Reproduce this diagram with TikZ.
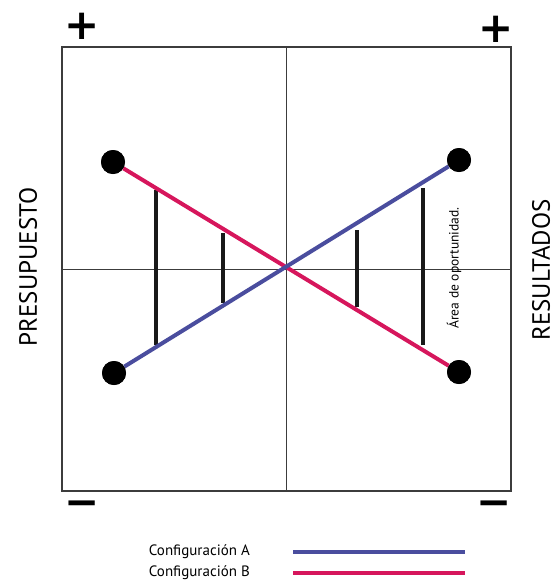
\documentclass[tikz,border=0pt]{standalone}
\usepackage{fontspec}
\setmainfont{PT Sans}
\newfontfamily\signfont{DejaVu Sans}
\usepackage{tikz}
\usetikzlibrary{positioning,calc}
\definecolor{cfgblue}{RGB}{74,77,158}
\definecolor{cfgpink}{RGB}{214,22,92}
\definecolor{axisgray}{RGB}{60,60,60}

\begin{document}
\begin{tikzpicture}[
  x=1pt, y=-1pt,
  frame/.style={draw=axisgray, line width=1.4pt, minimum width=449pt, minimum height=444pt, inner sep=0pt},
  axis/.style={draw=axisgray, line width=1pt},
  dot/.style={circle, fill=black, minimum size=24pt, inner sep=0pt},
  bar/.style={line width=4pt, black!90},
  cfga/.style={line width=4pt, cfgblue},
  cfgb/.style={line width=4pt, cfgpink},
  sign/.style={font=\signfont\bfseries\fontsize{42}{42}\selectfont, inner sep=0pt},
  vlabel/.style={rotate=90, font=\fontsize{25}{25}\selectfont, inner sep=0pt},
  legend/.style={font=\fontsize{15}{15}\selectfont, anchor=east, inner sep=0pt}
]
\useasboundingbox (0,0) rectangle (558,584);

% cuadrante
\node[frame] (frame) at (286.5,269) {};
\draw[axis] (frame.north) -- (frame.south);
\draw[axis] (frame.west) -- (frame.east);

% signos
\node[sign] (plusl) at (82,26) {+};
\node[sign] (plusr) at (496,29) {+};
\node[sign] (minl) at (82,509) {−};
\node[sign] (minr) at (494,509) {−};

% extremos
\node[dot] (tl) at (113,162) {};
\node[dot] (bl) at (114,373) {};
\node[dot] (tr) at (459,160) {};
\node[dot] (br) at (459,372) {};

% brechas
\draw[bar] (156,190) -- (156,345);
\draw[bar] (222.7,233) -- (222.7,303);
\draw[bar] (356.7,230) -- (356.7,307);
\draw[bar] (423,188) -- (423,345);

% configuraciones
\draw[cfgb] (tl) -- (br);
\draw[cfga] (bl) -- (tr);
\node[dot] at (tl) {};
\node[dot] at (bl) {};
\node[dot] at (tr) {};
\node[dot] at (br) {};

% textos
\node[vlabel] (presu) at (28,267) {PRESUPUESTO};
\node[vlabel] (resul) at (541,270) {RESULTADOS};
\node[rotate=90, font=\fontsize{13.5}{13.5}\selectfont, inner sep=0pt] (area) at (454,268) {Área de oportunidad.};

% leyenda
\node[legend] (laba) at (250,552) {Configuración A};
\node[legend] (labb) at (250,573) {Configuración B};
\coordinate (a1) at (293,552);
\coordinate (a2) at (465,552);
\coordinate (b1) at (293,573);
\coordinate (b2) at (465,573);
\draw[cfga] (a1) -- (a2);
\draw[cfgb] (b1) -- (b2);
\end{tikzpicture}
\end{document}
